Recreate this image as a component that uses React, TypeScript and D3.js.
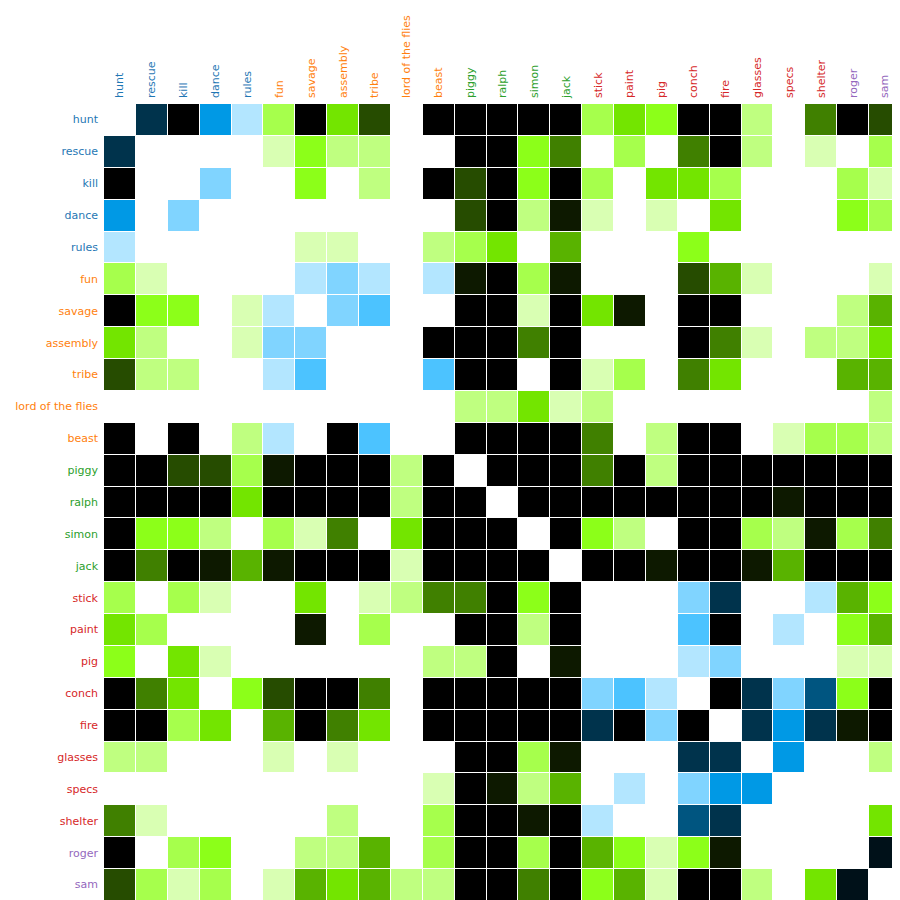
import React from "react";
import * as d3 from "d3";

const words = [
  "hunt", "rescue", "kill", "dance", "rules",
  "fun", "savage", "assembly", "tribe", "lord of the flies", "beast",
  "piggy", "ralph", "simon", "jack",
  "stick", "paint", "pig", "conch", "fire", "glasses", "specs", "shelter",
  "roger", "sam",
];

const groups = [
  0, 0, 0, 0, 0,
  1, 1, 1, 1, 1, 1,
  2, 2, 2, 2,
  3, 3, 3, 3, 3, 3, 3, 3,
  4, 4,
];

// co-occurrence counts (10 = 10 or more, rendered black)
const counts = [
  [0, 8, 10, 5, 1, 3, 10, 5, 8, 0, 10, 10, 10, 10, 10, 3, 5, 4, 10, 10, 2, 0, 7, 10, 8],
  [8, 0, 0, 0, 0, 1, 4, 2, 2, 0, 0, 10, 10, 4, 7, 0, 3, 0, 7, 10, 2, 0, 1, 0, 3],
  [10, 0, 0, 2, 0, 0, 4, 0, 2, 0, 10, 8, 10, 4, 10, 3, 0, 5, 5, 3, 0, 0, 0, 3, 1],
  [5, 0, 2, 0, 0, 0, 0, 0, 0, 0, 0, 8, 10, 2, 9, 1, 0, 1, 0, 5, 0, 0, 0, 4, 3],
  [1, 0, 0, 0, 0, 0, 1, 1, 0, 0, 2, 3, 5, 0, 6, 0, 0, 0, 4, 0, 0, 0, 0, 0, 0],
  [3, 1, 0, 0, 0, 0, 1, 2, 1, 0, 1, 9, 10, 3, 9, 0, 0, 0, 8, 6, 1, 0, 0, 0, 1],
  [10, 4, 4, 0, 1, 1, 0, 2, 3, 0, 0, 10, 10, 1, 10, 5, 9, 0, 10, 10, 0, 0, 0, 2, 6],
  [5, 2, 0, 0, 1, 2, 2, 0, 0, 0, 10, 10, 10, 7, 10, 0, 0, 0, 10, 7, 1, 0, 2, 2, 5],
  [8, 2, 2, 0, 0, 1, 3, 0, 0, 0, 3, 10, 10, 0, 10, 1, 3, 0, 7, 5, 0, 0, 0, 6, 6],
  [0, 0, 0, 0, 0, 0, 0, 0, 0, 0, 0, 2, 2, 5, 1, 2, 0, 0, 0, 0, 0, 0, 0, 0, 2],
  [10, 0, 10, 0, 2, 1, 0, 10, 3, 0, 0, 10, 10, 10, 10, 7, 0, 2, 10, 10, 0, 1, 3, 3, 2],
  [10, 10, 8, 8, 3, 9, 10, 10, 10, 2, 10, 0, 10, 10, 10, 7, 10, 2, 10, 10, 10, 10, 10, 10, 10],
  [10, 10, 10, 10, 5, 10, 10, 10, 10, 2, 10, 10, 0, 10, 10, 10, 10, 10, 10, 10, 10, 9, 10, 10, 10],
  [10, 4, 4, 2, 0, 3, 1, 7, 0, 5, 10, 10, 10, 0, 10, 4, 2, 0, 10, 10, 3, 2, 9, 3, 7],
  [10, 7, 10, 9, 6, 9, 10, 10, 10, 1, 10, 10, 10, 10, 0, 10, 10, 9, 10, 10, 9, 6, 10, 10, 10],
  [3, 0, 3, 1, 0, 0, 5, 0, 1, 2, 7, 7, 10, 4, 10, 0, 0, 0, 2, 8, 0, 0, 1, 6, 4],
  [5, 3, 0, 0, 0, 0, 9, 0, 3, 0, 0, 10, 10, 2, 10, 0, 0, 0, 3, 10, 0, 1, 0, 4, 6],
  [4, 0, 5, 1, 0, 0, 0, 0, 0, 0, 2, 2, 10, 0, 9, 0, 0, 0, 1, 2, 0, 0, 0, 1, 1],
  [10, 7, 5, 0, 4, 8, 10, 10, 7, 0, 10, 10, 10, 10, 10, 2, 3, 1, 0, 10, 8, 2, 7, 4, 10],
  [10, 10, 3, 5, 0, 6, 10, 7, 5, 0, 10, 10, 10, 10, 10, 8, 10, 2, 10, 0, 8, 5, 8, 9, 10],
  [2, 2, 0, 0, 0, 1, 0, 1, 0, 0, 0, 10, 10, 3, 9, 0, 0, 0, 8, 8, 0, 5, 0, 0, 2],
  [0, 0, 0, 0, 0, 0, 0, 0, 0, 0, 1, 10, 9, 2, 6, 0, 1, 0, 2, 5, 5, 0, 0, 0, 0],
  [7, 1, 0, 0, 0, 0, 0, 2, 0, 0, 3, 10, 10, 9, 10, 1, 0, 0, 7, 8, 0, 0, 0, 0, 5],
  [10, 0, 3, 4, 0, 0, 2, 2, 6, 0, 3, 10, 10, 3, 10, 6, 4, 1, 4, 9, 0, 0, 0, 0, 9],
  [8, 3, 1, 3, 0, 1, 6, 5, 6, 2, 2, 10, 10, 7, 10, 4, 6, 1, 10, 10, 2, 0, 5, 9, 0],
];

const groupColors = ["#1f77b4", "#ff7f0e", "#2ca02c", "#d62728", "#9467bd"];

export default function App() {
  const W = 892;
  const H = 892;
  const left = 96;
  const top = 96;
  const step = 31.875;
  const indices = words.map((_, i) => i);
  const x = d3
    .scaleBand<number>()
    .domain(indices)
    .range([0, step * words.length]);
  const lightness = d3.scaleLinear().domain([0, 10]).range([0.95, -0.05]).clamp(false);
  const cellColor = (i: number, j: number, v: number) => {
    const hue = groups[i] === groups[j] ? 200 : 90;
    const l = Math.max(0, lightness(v));
    return d3.hsl(hue, 1, l).formatHex();
  };
  const cells: React.ReactNode[] = [];
  counts.forEach((row, i) => {
    row.forEach((v, j) => {
      if (v <= 0) return;
      cells.push(
        <rect
          key={`${i}-${j}`}
          x={x(j)}
          y={x(i)}
          width={x.step() - 1}
          height={x.step() - 1}
          fill={cellColor(i, j, v)}
          shapeRendering="crispEdges"
        />
      );
    });
  });
  const bw = x.bandwidth();
  return (
    <svg
      width={W}
      height={H}
      style={{ display: "block", background: "#fff" }}
      fontFamily="'DejaVu Sans', sans-serif"
      fontSize={11}
    >
      <g transform={`translate(${left},${top})`}>
        {cells}
        {words.map((w, i) => (
          <text
            key={`r-${w}`}
            x={-6}
            y={(x(i) ?? 0) + bw / 2}
            dy="0.32em"
            textAnchor="end"
            fill={groupColors[groups[i]]}
          >
            {w}
          </text>
        ))}
        {words.map((w, i) => (
          <text
            key={`c-${w}`}
            transform={`translate(${(x(i) ?? 0) + bw / 2},0) rotate(-90)`}
            x={6}
            y={0}
            dy="0.32em"
            textAnchor="start"
            fill={groupColors[groups[i]]}
          >
            {w}
          </text>
        ))}
      </g>
    </svg>
  );
}
